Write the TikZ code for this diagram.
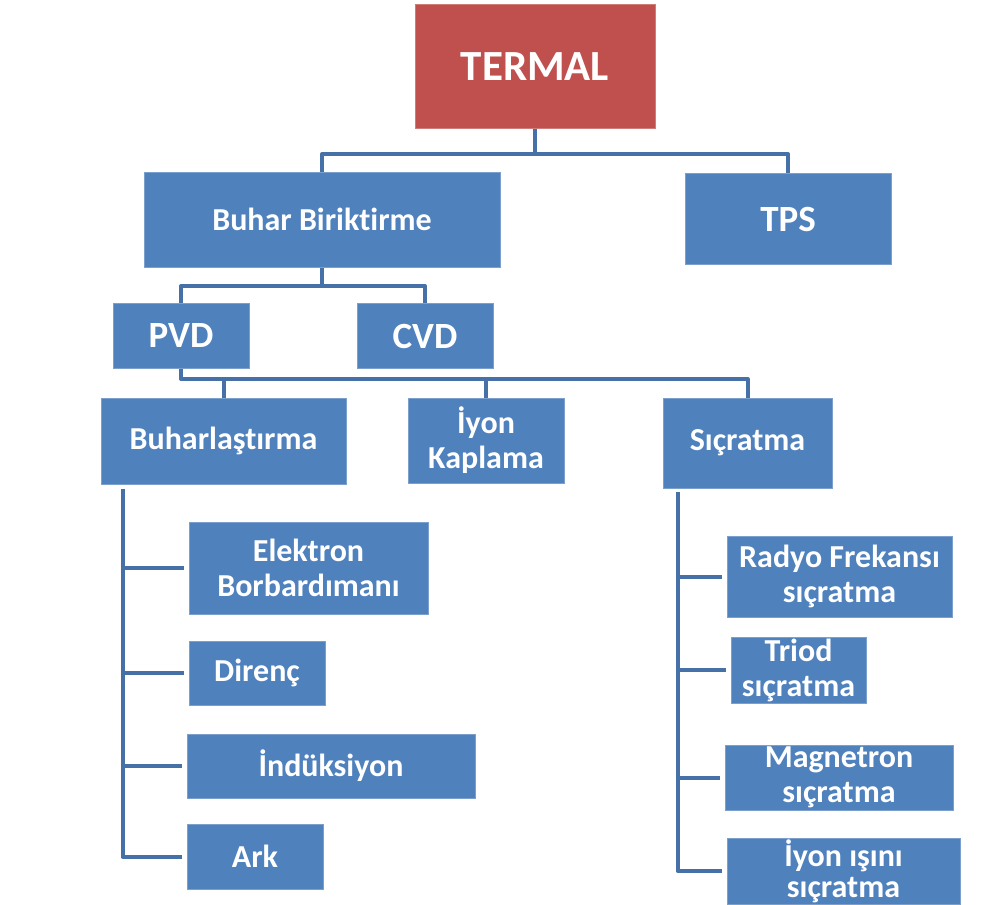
\documentclass[tikz,border=0pt]{standalone}
\usepackage{fontspec}
\setmainfont{Carlito}[Ligatures=NoCommon]
\usetikzlibrary{positioning}

\definecolor{termalred}{HTML}{C0504D}
\definecolor{boxblue}{HTML}{4F81BD}
\definecolor{linkblue}{HTML}{4671A8}

\tikzset{
  box/.style={fill=boxblue,draw=boxblue!75!white,line width=1pt,text=white,align=center,
    inner sep=0pt,font=\bfseries\fontsize{32}{35}\selectfont},
  bigbox/.style={box,font=\bfseries\fontsize{37}{40}\selectfont},
  link/.style={draw=linkblue,line width=4pt,line join=round},
  twig/.style={link,shorten >=5pt}
}

\begin{document}
\begin{tikzpicture}[x=1pt,y=-1pt]
	\useasboundingbox (0,0) rectangle (981,904);
	% top of the tree
	\node[box,fill=termalred,draw=termalred!75!white,font=\bfseries\fontsize{43}{50}\selectfont,
	minimum width=240,minimum height=124] (termal) at (535,67) {TERMAL};
	\node[box,minimum width=356,minimum height=95] (buhar) at (322,219.5) {Buhar Biriktirme};
	\node[bigbox,minimum width=206,minimum height=91] (tps) at (788,219) {TPS};
	\node[bigbox,minimum width=136,minimum height=65] (pvd) at (181,336) {PVD};
	\node[bigbox,minimum width=136,minimum height=65] (cvd) at (425,336) {CVD};
	%% PVD methods
	\node[box,minimum width=245,minimum height=86] (buharlastirma) at (223.5,441) {Buharlaştırma};
	\node[box,minimum width=156,minimum height=85] (iyon) at (486,440.5) {İyon\\Kaplama};
	\node[box,minimum width=169,minimum height=90] (sicratma) at (747.5,443) {Sıçratma};
	%% evaporation kinds
	\node[box,minimum width=239,minimum height=92] (elektron) at (308.5,568) {Elektron\\Borbardımanı};
	\node[box,minimum width=136,minimum height=64] (direnc) at (257,673) {Direnç};
	\node[box,minimum width=288,minimum height=64] (induksiyon) at (331,766) {İndüksiyon};
	\node[box,minimum width=136,minimum height=65] (ark) at (255,856.5) {Ark};
	%% sputtering kinds
	\node[box,minimum width=225,minimum height=81] (radyo) at (839.5,576.5) {Radyo Frekansı\\sıçratma};
	\node[box,minimum width=135,minimum height=66] (triod) at (798.5,670) {Triod\\sıçratma};
	\node[box,minimum width=228,minimum height=65] (magnetron) at (839,777.5) {Magnetron\\sıçratma};
	\node[box,minimum width=233,minimum height=66] (iyonisini) at (843.5,871) {İyon ışını\\[-4pt]sıçratma};

	% the connectors
	\coordinate (tbus) at (535,154);
	\coordinate (bbus) at (322,286);
	\coordinate (pbus) at (747.5,379);
	\draw[link] (termal.south) -- (tbus);
	\draw[link] (buhar.north) |- (tbus) -| (tps.north);
	\draw[link] (buhar.south) -- (bbus);
	\draw[link] (pvd.north) |- (bbus) -| (cvd.north);
	\draw[link] (pvd.south) |- (pbus) -- (sicratma.north);
	\draw[link] (buharlastirma.north) -- (buharlastirma.north |- pbus);
	\draw[link] (iyon.north) -- (iyon.north |- pbus);
	%% left trunk
	\coordinate (ltop) at ([xshift=22pt,yshift=-4pt]buharlastirma.south west);
	\draw[twig] (ltop) |- (ark.west);
	\foreach \n in {elektron,direnc,induksiyon}
		\draw[twig] (ltop |- \n.west) -- (\n.west);
	%% right trunk
	\coordinate (rtop) at ([xshift=15pt,yshift=-3pt]sicratma.south west);
	\draw[twig] (rtop) |- (iyonisini.west);
	\foreach \n in {radyo,triod,magnetron}
		\draw[twig] (rtop |- \n.west) -- (\n.west);
\end{tikzpicture}
\end{document}
